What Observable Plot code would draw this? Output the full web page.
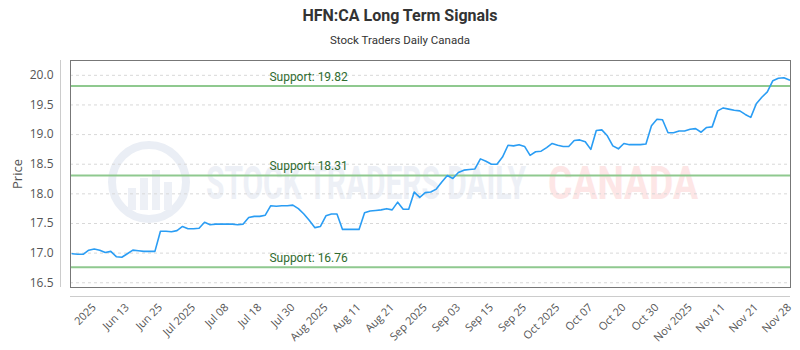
<!DOCTYPE html>
<html>
<head>
<meta charset="utf-8">
<script src="https://cdn.jsdelivr.net/npm/d3@7"></script>
<script src="https://cdn.jsdelivr.net/npm/@observablehq/plot@0.6"></script>
<style>
  body { margin: 0; background: #fff; }
  #wrap { position: relative; width: 800px; height: 350px; overflow: hidden; font-family: Roboto, "Open Sans", sans-serif; }
  #title { position: absolute; top: 6px; left: 0; width: 800px; text-align: center; font-weight: bold; font-size: 16px; color: #333; }
  #subtitle { position: absolute; top: 33px; left: 0; width: 800px; text-align: center; font-size: 11.5px; color: #333; }
  #ylabel { position: absolute; left: 17px; top: 174px; transform: translate(-50%, -50%) rotate(-90deg); font-family: "Open Sans", sans-serif; font-size: 13px; color: #555; z-index: 2; }
  #wm { position: absolute; left: 0; top: 0; z-index: 0; }
  #chart { position: absolute; left: 0; top: 50px; z-index: 1; }
</style>
</head>
<body>
<div id="wrap">
  <div id="title">HFN:CA Long Term Signals</div>
  <div id="subtitle">Stock Traders Daily Canada</div>
  <div id="ylabel">Price</div>
  <svg id="wm" width="800" height="350">
    <circle cx="149" cy="182" r="37" fill="none" stroke="#eaeef5" stroke-width="8"/>
    <g fill="#edf0f6">
      <rect x="128" y="188" width="8" height="22"/>
      <rect x="140" y="178" width="8" height="32"/>
      <rect x="152" y="170" width="8" height="40"/>
      <rect x="164" y="182" width="8" height="28"/>
    </g>
    <text x="206" y="199" textLength="320" lengthAdjust="spacingAndGlyphs" font-family="Roboto, sans-serif" font-weight="bold" font-size="46" fill="#edf0f6">STOCK TRADERS DAILY</text>
    <text x="548" y="199" textLength="150" lengthAdjust="spacingAndGlyphs" font-family="Roboto, sans-serif" font-weight="bold" font-size="46" fill="#fde6e6">CANADA</text>
  </svg>
  <div id="chart"></div>
</div>
<script>
// Daily closing prices
const closes = [
  16.99,16.98,16.98,17.05,17.07,17.05,17.01,17.03,16.94,16.93,
  16.99,17.05,17.04,17.03,17.03,17.03,17.37,17.37,17.36,17.38,
  17.45,17.41,17.41,17.42,17.52,17.48,17.49,17.49,17.49,17.49,
  17.48,17.49,17.60,17.62,17.62,17.64,17.80,17.79,17.80,17.80,
  17.81,17.75,17.66,17.55,17.43,17.45,17.63,17.66,17.66,17.40,
  17.40,17.40,17.40,17.68,17.71,17.72,17.73,17.75,17.73,17.86,
  17.74,17.74,18.03,17.94,18.02,18.03,18.08,18.20,18.31,18.26,
  18.36,18.40,18.41,18.42,18.59,18.55,18.50,18.50,18.62,18.82,
  18.81,18.83,18.80,18.65,18.71,18.72,18.78,18.85,18.82,18.80,
  18.80,18.90,18.91,18.88,18.75,19.07,19.08,18.98,18.81,18.76,
  18.85,18.83,18.83,18.83,18.84,19.15,19.26,19.25,19.03,19.03,
  19.06,19.06,19.09,19.10,19.04,19.12,19.13,19.40,19.45,19.43,
  19.41,19.40,19.34,19.29,19.52,19.63,19.72,19.91,19.95,19.96,
  19.92
];
// Support levels
const supports = [19.82, 18.31, 16.76];
// X tick labels and the trading-day index they sit on
const tickLabels = ["2025","Jun 13","Jun 25","Jul 2025","Jul 08","Jul 18","Jul 30","Aug 2025","Aug 11","Aug 21","Sep 2025","Sep 03","Sep 15","Sep 25","Oct 2025","Oct 07","Oct 20","Oct 30","Nov 2025","Nov 11","Nov 21","Nov 28"];
const tickIndex = [4,10,16,22,28,34,40,46,52,58,64,70,76,82,88,94,100,106,112,118,124,130];
// Y ticks
const yTicks = [16.5, 17.0, 17.5, 18.0, 18.5, 19.0, 19.5, 20.0];
const yDomain = [16.42, 20.25];

const N = closes.length;
const xDomain = [-0.3, N - 0.8];
const labelX = (N - 1) * 0.275;

const chart = Plot.plot({
  width: 800,
  height: 300,
  marginLeft: 70,
  marginRight: 10,
  marginTop: 10,
  marginBottom: 63,
  style: { background: "transparent", fontFamily: "'Open Sans', sans-serif", fontSize: "11px", color: "#555", overflow: "visible" },
  x: { domain: xDomain, axis: null },
  y: { domain: yDomain, axis: null },
  marks: [
    Plot.gridY(yTicks, { stroke: "#d8d8d8", strokeOpacity: 1, strokeDasharray: "3,3" }),
    Plot.ruleY(supports, { stroke: "#8fc98f", strokeWidth: 2 }),
    Plot.text(supports, { x: () => labelX, y: d => d, text: d => `Support: ${d.toFixed(2)}`, textAnchor: "start", dy: -9, fill: "#2f6b2f", fontSize: 12, fontFamily: "Roboto, sans-serif" }),
    Plot.lineY(closes, { x: (d, i) => i, y: d => d, stroke: "#2a9df4", strokeWidth: 1.6 }),
    Plot.frame({ stroke: "#777" }),
    Plot.ruleY([yDomain[0]], { dy: 9, stroke: "#ccc" }),
    Plot.ruleX([xDomain[0]], { dx: -10, stroke: "#ccc" }),
    Plot.axisY(yTicks, { tickSize: 0, tickPadding: 17, tickFormat: d => d.toFixed(1), fontSize: 12, fill: "#555", label: null }),
    Plot.axisX(tickIndex, { tickSize: 0, tickPadding: 18, tickRotate: -45, tickFormat: d => tickLabels[tickIndex.indexOf(d)], label: null, fontSize: 11, fill: "#555" })
  ]
});
document.getElementById("chart").appendChild(chart);
</script>
</body>
</html>
